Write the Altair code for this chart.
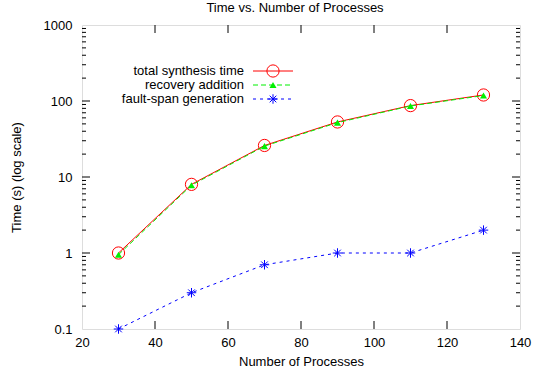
import altair as alt
import pandas as pd

# ---- data ----
procs = [30, 50, 70, 90, 110, 130]
total_time = [1.0, 8.0, 26.0, 53.0, 87.0, 120.0]
recovery_time = [0.95, 7.8, 25.5, 52.0, 86.0, 118.0]
faultspan_time = [0.1, 0.3, 0.7, 1.0, 1.0, 2.0]

series_names = ["total synthesis time", "recovery addition", "fault-span generation"]
series_colors = ["#ff0000", "#00f000", "#0000ff"]

x_major_ticks = [40, 60, 80, 100, 120]
y_major_ticks = [0.1, 1, 10, 100, 1000]
y_minor_mult = [2, 3, 4, 5, 6, 7, 8, 9]
y_minor_ticks = [d * m for d in [0.1, 1, 10, 100] for m in y_minor_mult]

W, H = 438, 304
FONT = "Liberation Sans"
FS = 13

df = pd.DataFrame({"procs": procs, "total": total_time,
                   "recovery": recovery_time, "fault": faultspan_time})

xscale = alt.Scale(domain=[20, 140], nice=False, zero=False)
yscale = alt.Scale(type="log", domain=[0.1, 1000], nice=False)

xaxis = alt.Axis(title="Number of Processes", values=[20, 40, 60, 80, 100, 120, 140],
                 grid=False, ticks=False, domain=False, labelPadding=7,
                 labelFontSize=FS, titleFontSize=FS, titleFontWeight="normal",
                 labelFont=FONT, titleFont=FONT, titlePadding=6, labelColor="black",
                 titleColor="black", labelFlush=False)
yaxis = alt.Axis(title="Time (s) (log scale)", values=y_major_ticks, format="~g",
                 grid=False, ticks=False, domain=False, labelPadding=10,
                 labelFontSize=FS, titleFontSize=FS, titleFontWeight="normal",
                 labelFont=FONT, titleFont=FONT, titlePadding=20, labelColor="black",
                 titleColor="black", labelFlush=False)

def X(field):
    return alt.X(field, type="quantitative", scale=xscale, axis=xaxis)

def Y(field):
    return alt.Y(field, type="quantitative", scale=yscale, axis=yaxis)

base = alt.Chart(df)

total_line = base.mark_line(color=series_colors[0], strokeWidth=1).encode(x=X("procs"), y=Y("total"))
total_pts = base.mark_point(shape="circle", size=150, filled=False, color=series_colors[0],
                            strokeWidth=1, opacity=1).encode(x=X("procs"), y=Y("total"))
rec_line = base.mark_line(color=series_colors[1], strokeWidth=1, strokeDash=[5, 3]).encode(x=X("procs"), y=Y("recovery"))
rec_pts = base.mark_point(shape="triangle-up", size=50, filled=True, color=series_colors[1],
                          opacity=1).encode(x=X("procs"), y=Y("recovery"))
STAR = "M-1,0L1,0M0,-1L0,1M-0.7,-0.7L0.7,0.7M-0.7,0.7L0.7,-0.7"
fault_line = base.mark_line(color=series_colors[2], strokeWidth=1, strokeDash=[3, 4]).encode(x=X("procs"), y=Y("fault"))
fault_pts = base.mark_point(shape=STAR, size=90, filled=False, color=series_colors[2],
                            strokeWidth=1, opacity=1).encode(x=X("procs"), y=Y("fault"))

# inward ticks (gnuplot style)
xt = alt.Chart(pd.DataFrame({"t": x_major_ticks}))
xt_bottom = xt.mark_rule(color="black", strokeWidth=1).encode(x=X("t"), y=alt.value(H), y2=alt.value(H - 8))
xt_top = xt.mark_rule(color="black", strokeWidth=1).encode(x=X("t"), y=alt.value(0), y2=alt.value(8))
ytm = alt.Chart(pd.DataFrame({"t": y_major_ticks[1:-1]}))
ytm_left = ytm.mark_rule(color="black", strokeWidth=1).encode(y=Y("t"), x=alt.value(0), x2=alt.value(8))
ytm_right = ytm.mark_rule(color="black", strokeWidth=1).encode(y=Y("t"), x=alt.value(W), x2=alt.value(W - 8))
ytn = alt.Chart(pd.DataFrame({"t": y_minor_ticks}))
ytn_left = ytn.mark_rule(color="black", strokeWidth=1).encode(y=Y("t"), x=alt.value(0), x2=alt.value(4))
ytn_right = ytn.mark_rule(color="black", strokeWidth=1).encode(y=Y("t"), x=alt.value(W), x2=alt.value(W - 4))

# legend (label left, sample right, gnuplot style)
legend_layers = []
row_y = [46, 60, 74]
dashes = [[1, 0], [5, 3], [3, 4]]
shapes = ["circle", "triangle-up", STAR]
sizes = [150, 50, 90]
fills = [False, True, False]
for i, name in enumerate(series_names):
    ldf = pd.DataFrame({"label": [name]})
    lc = alt.Chart(ldf)
    legend_layers.append(lc.mark_text(align="right", baseline="middle", fontSize=FS, font=FONT,
                                      color="black").encode(text="label:N", x=alt.value(162), y=alt.value(row_y[i])))
    legend_layers.append(lc.mark_rule(color=series_colors[i], strokeWidth=1, strokeDash=dashes[i]).encode(
        x=alt.value(171), x2=alt.value(211), y=alt.value(row_y[i])))
    legend_layers.append(lc.mark_point(shape=shapes[i], size=sizes[i], filled=fills[i], color=series_colors[i],
                                       strokeWidth=1, opacity=1).encode(x=alt.value(191), y=alt.value(row_y[i])))

chart = alt.layer(
    total_line, total_pts, rec_line, rec_pts, fault_line, fault_pts,
    xt_bottom, xt_top, ytm_left, ytm_right, ytn_left, ytn_right,
    *legend_layers
).properties(
    width=W, height=H,
    title=alt.TitleParams("Time vs. Number of Processes", fontSize=FS, fontWeight="normal",
                          font=FONT, offset=4, anchor="middle", color="black", dx=-6),
    padding={"left": 82, "top": 25, "right": 15, "bottom": 45},
    autosize=alt.AutoSizeParams(type="none"),
).configure_view(stroke="black", strokeWidth=1.5).configure(background="white")

chart.save("out.html", embed_options={"renderer": "svg", "actions": False})
